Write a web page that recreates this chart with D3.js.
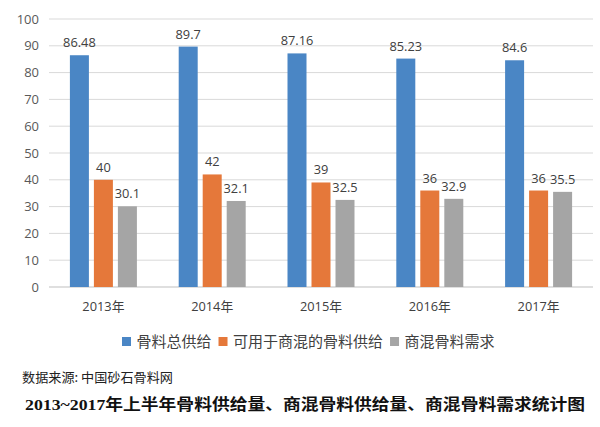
<!DOCTYPE html>
<html><head><meta charset="utf-8">
<script src="https://cdn.jsdelivr.net/npm/d3@7/dist/d3.min.js"></script>
<style>body{margin:0;background:#fff}svg{display:block}</style>
</head><body><svg id="c" width="600" height="427"></svg>
<script>
const categories = ["2013年","2014年","2015年","2016年","2017年"];
const seriesNames = ["骨料总供给","可用于商混的骨料供给","商混骨料需求"];
const totalSupply = [86.48, 89.7, 87.16, 85.23, 84.6];
const mixSupply = [40, 42, 39, 36, 36];
const mixDemand = [30.1, 32.1, 32.5, 32.9, 35.5];
const yTicks = [0,10,20,30,40,50,60,70,80,90,100];
const colors = ["#4a86c5","#e5783a","#a5a5a5"];
const series = [totalSupply, mixSupply, mixDemand];

(function(){
const svg = d3.select("#c");
const font = "'Open Sans','Noto Sans CJK SC',sans-serif";
const pLeft = 49, pRight = 593, pTop = 19, pBottom = 287;
const x = d3.scaleBand().domain(categories).range([pLeft, pRight]);
const y = d3.scaleLinear().domain([0,100]).range([pBottom, pTop]);
const barW = 19, gap = 5;
const xs = d3.scaleBand().domain(d3.range(3)).range([-(barW*1.5+gap), barW*1.5+gap]).paddingInner(gap/(barW+gap)).paddingOuter(0);

svg.append("g").selectAll("line").data(yTicks).join("line")
  .attr("x1", pLeft).attr("x2", pRight)
  .attr("y1", d=>y(d)).attr("y2", d=>y(d))
  .attr("stroke", d=> d===0 ? "#bfbfbf" : "#d9d9d9").attr("stroke-width",1);

const yAxis = d3.axisLeft(y).tickValues(yTicks).tickSize(0).tickPadding(0);
const ga = svg.append("g").attr("transform",`translate(39,0)`).call(yAxis);
ga.select(".domain").remove();
ga.selectAll("text").attr("font-family",font).attr("font-size",13).attr("fill","#595959");

series.forEach((vals, si) => {
  const g = svg.append("g");
  g.selectAll("rect").data(vals).join("rect")
    .attr("x", (d,i)=> x(categories[i]) + x.bandwidth()/2 + xs(si))
    .attr("width", xs.bandwidth())
    .attr("y", d=>y(d)).attr("height", d=>pBottom - y(d))
    .attr("fill", colors[si]);
  g.selectAll("text").data(vals).join("text")
    .attr("x", (d,i)=> x(categories[i]) + x.bandwidth()/2 + xs(si) + xs.bandwidth()/2)
    .attr("y", d=>y(d) - 8)
    .attr("text-anchor","middle")
    .attr("font-family",font).attr("font-size",12.8).attr("fill","#404040")
    .text(d=>d);
});

const xAxis = d3.axisBottom(x).tickSize(0).tickPadding(0);
const gx = svg.append("g").attr("transform",`translate(0,${pBottom+24})`).call(xAxis);
gx.select(".domain").remove();
gx.selectAll("text").attr("font-family",font).attr("font-size",12.8).attr("fill","#404040").attr("dy",0);

const lg = svg.append("g").attr("transform","translate(122,347)");
let lx = 0;
seriesNames.forEach((n,i)=>{
  lg.append("rect").attr("x",lx).attr("y",-10).attr("width",9).attr("height",9).attr("fill",colors[i]);
  const t = lg.append("text").attr("x",lx+14.5).attr("y",0).attr("font-family",font).attr("font-size",15).attr("fill","#404040").text(n);
  lx += 14.5 + t.node().getComputedTextLength() + 7;
});

svg.append("text").attr("x",22).attr("y",382).attr("font-family","'Noto Sans CJK SC',sans-serif").attr("font-size",12.8).attr("fill","#222").attr("textLength",151).attr("lengthAdjust","spacingAndGlyphs").text("数据来源: 中国砂石骨料网");
svg.append("text").attr("x",25).attr("y",410).attr("font-family","'Liberation Serif','Noto Sans CJK SC',serif").attr("font-weight","bold").attr("font-size",15.5).attr("fill","#111").attr("textLength",560).attr("lengthAdjust","spacingAndGlyphs").text("2013~2017年上半年骨料供给量、商混骨料供给量、商混骨料需求统计图");
})();
</script></body></html>
